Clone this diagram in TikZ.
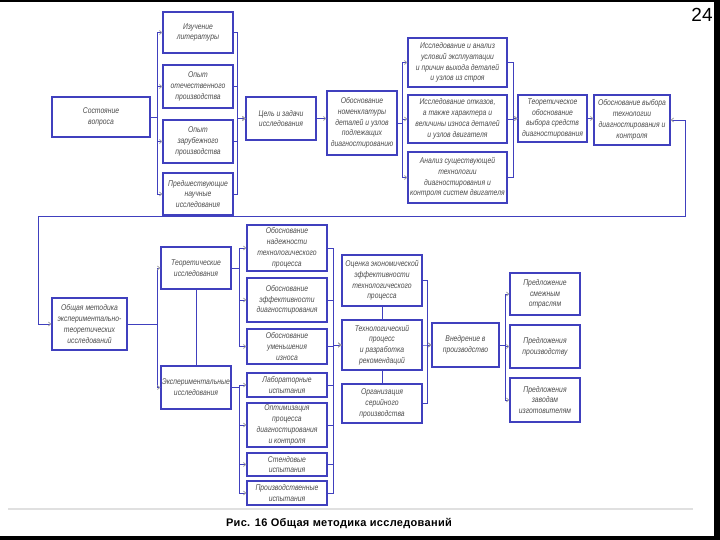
\documentclass[tikz,border=0pt]{standalone}
\usepackage{fontspec}
\setmainfont{Liberation Sans}
\newfontfamily\boxfont[FakeStretch=0.82]{Liberation Sans}
\newfontfamily\capfont[LetterSpace=3]{Liberation Sans}
\usetikzlibrary{arrows.meta}
\definecolor{bline}{RGB}{64,64,190}
\definecolor{btext}{RGB}{75,75,75}
\definecolor{hookc}{RGB}{165,165,165}
\tikzset{
 box/.style={draw=bline, line width=1.1pt, fill=white, rectangle, inner sep=1pt, align=center,
   font={\boxfont\itshape\fontsize{8.3}{10.8}\selectfont}, text=btext},
 conn/.style={draw=bline, line width=0.8pt, -{Straight Barb[length=2.5pt,width=4pt,color=hookc]}},
 conntwo/.style={draw=bline, line width=0.8pt, {Straight Barb[length=2.5pt,width=4pt,color=hookc]}-{Straight Barb[length=2.5pt,width=4pt,color=hookc]}},
 plainc/.style={draw=bline, line width=0.8pt},
}
\newcommand\mybox[6]{%
 \pgfmathsetmacro\bw{#4-#2}\pgfmathsetmacro\bh{#5-#3}%
 \pgfmathsetmacro\cx{(#2+#4)/2}\pgfmathsetmacro\cy{(#3+#5)/2}%
 \node[box, minimum width=\bw pt, minimum height=\bh pt] (#1) at (\cx,\cy) {#6};}
\begin{document}
\begin{tikzpicture}[x=1pt,y=-1pt]
\useasboundingbox (0,0) rectangle (720,540);
\fill[white] (0,0) rectangle (720,540);
\fill[black] (0,0) rectangle (720,2.5);
\fill[black] (714,0) rectangle (720,540);
\fill[black] (0,535.5) rectangle (720,540);
\draw[black!12, line width=2pt] (8,508.5) -- (693,508.5);
\node[font=\fontsize{19}{20}\selectfont] (pg) at (702,15) {24};
\node[font={\capfont\bfseries\fontsize{11}{12}\selectfont}] (cap) at (339,523) {Рис. 16 Общая методика исследований};
% top row
\mybox{sost}{52}{97}{150}{137}{Состояние\\вопроса}
\mybox{b1}{163}{12}{233}{53}{Изучение\\литературы}
\mybox{b2}{163}{65}{233}{108}{Опыт\\отечественного\\производства}
\mybox{b3}{163}{120}{233}{163}{Опыт\\зарубежного\\производства}
\mybox{b4}{163}{173}{233}{215}{Предшествующие\\научные\\исследования}
\mybox{cel}{246}{97}{316}{140}{Цель и задачи\\исследования}
\mybox{obn}{327}{91}{397}{155}{Обоснование\\номенклатуры\\деталей и узлов\\подлежащих\\диагностированию}
\mybox{i1}{408}{38}{507}{87}{Исследование и анализ\\условий эксплуатации\\и причин выхода деталей\\и узлов из строя}
\mybox{i2}{408}{95}{507}{143}{Исследование отказов,\\а также характера и\\величины износа деталей\\и узлов двигателя}
\mybox{i3}{408}{152}{507}{203}{Анализ существующей\\технологии\\диагностирования и\\контроля систем двигателя}
\mybox{teo}{518}{95}{587}{142}{Теоретическое\\обоснование\\выбора средств\\диагностирования}
\mybox{vyb}{594}{95}{670}{145}{Обоснование выбора\\технологии\\диагностирования и\\контроля}
% lower part
\mybox{met}{52}{298}{127}{350}{Общая методика\\экспериментально-\\теоретических\\исследований}
\mybox{th}{161}{247}{231}{289}{Теоретические\\исследования}
\mybox{ex}{161}{366}{231}{409}{Экспериментальные\\исследования}
\mybox{o1}{247}{225}{327}{271}{Обоснование\\надежности\\технологического\\процесса}
\mybox{o2}{247}{278}{327}{322}{Обоснование\\эффективности\\диагностирования}
\mybox{o3}{247}{329}{327}{364}{Обоснование\\уменьшения\\износа}
\mybox{l1}{247}{373}{327}{397}{Лабораторные\\испытания}
\mybox{l2}{247}{403}{327}{447}{Оптимизация\\процесса\\диагностирования\\и контроля}
\mybox{l3}{247}{453}{327}{476}{Стендовые\\испытания}
\mybox{l4}{247}{481}{327}{505}{Производственные\\испытания}
\mybox{ok}{342}{255}{422}{306}{Оценка экономической\\эффективности\\технологического\\процесса}
\mybox{tp}{342}{320}{422}{370}{Технологический\\процесс\\и разработка\\рекомендаций}
\mybox{org}{342}{384}{422}{423}{Организация\\серийного\\производства}
\mybox{vn}{432}{323}{499}{367}{Внедрение в\\производство}
\mybox{p1}{510}{273}{580}{315}{Предложение\\смежным\\отраслям}
\mybox{p2}{510}{325}{580}{368}{Предложения\\производству}
\mybox{p3}{510}{378}{580}{422}{Предложения\\заводам\\изготовителям}
% connectors top
\foreach \t in {b1,b2,b3,b4} \draw[conn] (sost.east) -- (157,117) |- (\t.west);
\foreach \s in {b1,b2,b3,b4} \draw[conn] (\s.east) -| (237,118.5) -- (cel.west);
\draw[conn] (cel.east) -- (obn.west |- cel.east);
\foreach \t in {i1,i2,i3} \draw[conn] (obn.east) -- (402,123) |- (\t.west);
\foreach \s in {i1,i2,i3} \draw[conn] (\s.east) -| (513,118.5) -- (teo.west);
\draw[conn] (teo.east) -- (vyb.west |- teo.east);
\draw[conntwo] (vyb.east) -- (685,120) -- (685,216) -- (38,216) |- (met.west);
% connectors lower
\draw[conn] (met.east) -- (157,324) |- (th.west);
\draw[conn] (met.east) -- (157,324) |- (ex.west);
\draw[plainc] (th.south) -- (ex.north);
\foreach \t in {o1,o2,o3} \draw[conn] (th.east) -- (239,268) |- (\t.west);
\foreach \t in {l1,l2,l3,l4} \draw[conn] (ex.east) -- (239,387.5) |- (\t.west);
\foreach \s in {o1,o2,o3,l1,l2,l3,l4} \draw[conn] (\s.east) -| (333,345) -- (tp.west);
\draw[plainc] (ok.south) -- (tp.north);
\draw[plainc] (tp.south) -- (org.north);
\foreach \s in {ok,tp,org} \draw[conn] (\s.east) -| (427,345) -- (vn.west);
\foreach \t in {p1,p2,p3} \draw[conn] (vn.east) -- (505,345) |- (\t.west);
\end{tikzpicture}
\end{document}
